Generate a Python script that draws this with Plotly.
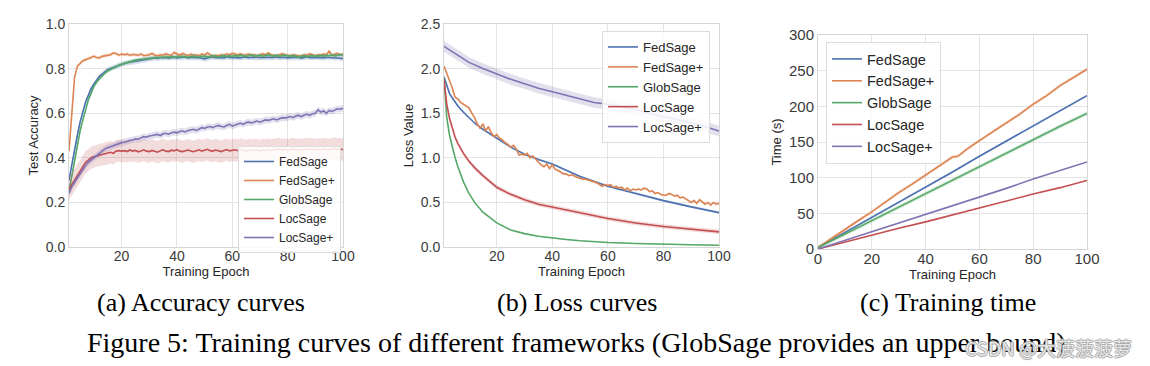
import plotly.graph_objects as go

series_names = ["FedSage", "FedSage+", "GlobSage", "LocSage", "LocSage+"]
colors = ["#4C72B0", "#DD8452", "#55A868", "#C44E52", "#8172B3"]
band_rgba = ["rgba(76,114,176,0.22)", "rgba(221,132,82,0.22)", "rgba(85,168,104,0.22)",
             "rgba(196,78,82,0.20)", "rgba(129,114,179,0.22)"]

# ---------------- (a) accuracy ----------------
acc_epochs = list(range(1, 101))
acc_fedsage = [0.30, 0.37, 0.44, 0.50, 0.56, 0.61, 0.65, 0.68, 0.71, 0.73,
               0.75, 0.765, 0.775, 0.785, 0.795, 0.80, 0.805, 0.81, 0.815, 0.82,
               0.823, 0.826, 0.828, 0.83, 0.832, 0.834, 0.836, 0.838, 0.84, 0.842,
               0.845, 0.848, 0.846, 0.85, 0.848, 0.85, 0.847, 0.849, 0.851, 0.848,
               0.85, 0.849, 0.852, 0.848, 0.85, 0.851, 0.849, 0.85, 0.846, 0.843,
               0.848, 0.85, 0.852, 0.849, 0.851, 0.85, 0.848, 0.852, 0.85, 0.849,
               0.851, 0.85, 0.848, 0.852, 0.85, 0.849, 0.851, 0.85, 0.848, 0.85,
               0.849, 0.851, 0.85, 0.848, 0.85, 0.852, 0.849, 0.85, 0.851, 0.848,
               0.85, 0.849, 0.851, 0.85, 0.847, 0.85, 0.852, 0.849, 0.85, 0.851,
               0.849, 0.85, 0.848, 0.851, 0.85, 0.849, 0.848, 0.85, 0.847, 0.845]
acc_fedsage_plus = [0.43, 0.62, 0.76, 0.81, 0.825, 0.835, 0.84, 0.845, 0.85, 0.855,
                    0.85, 0.848, 0.855, 0.858, 0.86, 0.862, 0.87, 0.868, 0.86, 0.865,
                    0.862, 0.865, 0.86, 0.863, 0.862, 0.86, 0.865, 0.858, 0.86, 0.862,
                    0.868, 0.86, 0.858, 0.862, 0.86, 0.866, 0.862, 0.86, 0.872, 0.865,
                    0.86, 0.868, 0.862, 0.858, 0.865, 0.86, 0.862, 0.858, 0.865, 0.86,
                    0.87, 0.862, 0.855, 0.86, 0.858, 0.862, 0.86, 0.865, 0.862, 0.868,
                    0.865, 0.862, 0.866, 0.86, 0.862, 0.865, 0.86, 0.862, 0.858, 0.862,
                    0.866, 0.862, 0.87, 0.862, 0.86, 0.858, 0.862, 0.866, 0.862, 0.86,
                    0.858, 0.862, 0.86, 0.856, 0.858, 0.862, 0.86, 0.866, 0.862, 0.858,
                    0.862, 0.86, 0.865, 0.862, 0.878, 0.86, 0.864, 0.868, 0.862, 0.865]
acc_globsage = [0.25, 0.32, 0.39, 0.46, 0.52, 0.57, 0.62, 0.66, 0.69, 0.72,
                0.74, 0.755, 0.77, 0.78, 0.79, 0.797, 0.804, 0.81, 0.815, 0.82,
                0.824, 0.828, 0.832, 0.835, 0.838, 0.84, 0.842, 0.844, 0.845, 0.846,
                0.848, 0.849, 0.85, 0.851, 0.85, 0.852, 0.851, 0.853, 0.852, 0.854,
                0.852, 0.855, 0.853, 0.851, 0.854, 0.856, 0.853, 0.852, 0.855, 0.854,
                0.856, 0.853, 0.858, 0.855, 0.852, 0.856, 0.858, 0.854, 0.857, 0.855,
                0.858, 0.856, 0.86, 0.857, 0.855, 0.858, 0.862, 0.856, 0.858, 0.86,
                0.856, 0.859, 0.862, 0.858, 0.856, 0.86, 0.855, 0.858, 0.861, 0.857,
                0.855, 0.858, 0.856, 0.852, 0.855, 0.857, 0.854, 0.856, 0.858, 0.855,
                0.857, 0.859, 0.856, 0.86, 0.858, 0.862, 0.857, 0.86, 0.862, 0.86]
acc_locsage = [0.26, 0.28, 0.30, 0.32, 0.34, 0.36, 0.38, 0.39, 0.40, 0.405,
               0.41, 0.412, 0.415, 0.418, 0.42, 0.425, 0.42, 0.43, 0.432, 0.43,
               0.432, 0.428, 0.435, 0.43, 0.433, 0.427, 0.431, 0.436, 0.43, 0.428,
               0.433, 0.43, 0.425, 0.432, 0.436, 0.43, 0.428, 0.434, 0.431, 0.437,
               0.43, 0.428, 0.433, 0.435, 0.43, 0.427, 0.432, 0.436, 0.43, 0.433,
               0.438, 0.432, 0.43, 0.435, 0.43, 0.428, 0.433, 0.437, 0.431, 0.434,
               0.436, 0.432, 0.438, 0.433, 0.43, 0.435, 0.432, 0.437, 0.434, 0.431,
               0.436, 0.433, 0.438, 0.432, 0.435, 0.437, 0.44, 0.434, 0.438, 0.433,
               0.436, 0.44, 0.435, 0.438, 0.434, 0.437, 0.44, 0.436, 0.439, 0.434,
               0.438, 0.436, 0.44, 0.437, 0.435, 0.439, 0.442, 0.437, 0.44, 0.436]
acc_locsage_plus = [0.24, 0.27, 0.29, 0.31, 0.33, 0.35, 0.365, 0.38, 0.39, 0.40,
                    0.41, 0.42, 0.43, 0.44, 0.445, 0.45, 0.455, 0.46, 0.462, 0.468,
                    0.47, 0.475, 0.478, 0.48, 0.485, 0.483, 0.49, 0.495, 0.492, 0.498,
                    0.50, 0.503, 0.505, 0.50, 0.508, 0.51, 0.506, 0.512, 0.515, 0.512,
                    0.518, 0.52, 0.516, 0.522, 0.525, 0.528, 0.523, 0.53, 0.535, 0.532,
                    0.538, 0.54, 0.535, 0.542, 0.545, 0.54, 0.538, 0.545, 0.55, 0.542,
                    0.548, 0.552, 0.555, 0.55, 0.558, 0.56, 0.556, 0.562, 0.565, 0.56,
                    0.566, 0.57, 0.568, 0.572, 0.575, 0.57, 0.576, 0.58, 0.578, 0.582,
                    0.585, 0.58, 0.588, 0.59, 0.585, 0.592, 0.595, 0.59, 0.598, 0.60,
                    0.615, 0.605, 0.61, 0.60, 0.612, 0.608, 0.615, 0.62, 0.618, 0.622]
acc_spread = [0.012, 0.008, 0.008, 0.05, 0.015]

# ---------------- (b) loss ----------------
loss_smooth_epochs = [1, 2, 3, 4, 5, 6, 8, 10, 12, 15, 20, 25, 30, 35, 40, 45, 50, 60, 70, 80, 90, 100]
loss_fedsage = [1.91, 1.80, 1.72, 1.67, 1.62, 1.58, 1.51, 1.45, 1.39, 1.32, 1.22, 1.12, 1.04, 0.98,
                0.93, 0.86, 0.79, 0.68, 0.60, 0.52, 0.45, 0.385]
loss_globsage = [1.90, 1.45, 1.25, 1.12, 1.00, 0.90, 0.73, 0.60, 0.50, 0.39, 0.27, 0.19, 0.15, 0.12,
                 0.10, 0.085, 0.07, 0.05, 0.04, 0.03, 0.025, 0.02]
loss_locsage = [1.88, 1.60, 1.44, 1.32, 1.23, 1.16, 1.05, 0.96, 0.89, 0.80, 0.67, 0.59, 0.53, 0.48,
                0.45, 0.415, 0.385, 0.32, 0.27, 0.23, 0.20, 0.17]
loss_locsage_plus_epochs = [1, 5, 10, 15, 20, 25, 30, 35, 40, 45, 50, 55, 60, 65, 70, 75, 80, 85, 90, 95, 100]
loss_locsage_plus = [2.25, 2.17, 2.07, 2.00, 1.94, 1.88, 1.83, 1.78, 1.74, 1.70, 1.66, 1.62, 1.60,
                     1.57, 1.54, 1.50, 1.46, 1.43, 1.39, 1.35, 1.30]
loss_fedsage_plus_epochs = list(range(1, 101))
loss_fedsage_plus = [2.03, 1.95, 1.86, 1.78, 1.68, 1.66, 1.62, 1.60, 1.58, 1.56,
                     1.50, 1.45, 1.38, 1.33, 1.38, 1.30, 1.35, 1.28, 1.24, 1.26,
                     1.22, 1.20, 1.17, 1.15, 1.12, 1.14, 1.10, 1.03, 1.04, 1.03,
                     1.05, 1.00, 1.02, 0.98, 0.95, 0.92, 0.90, 0.93, 0.88, 0.92,
                     0.87, 0.86, 0.84, 0.82, 0.82, 0.80, 0.81, 0.79, 0.78, 0.77,
                     0.76, 0.76, 0.75, 0.74, 0.73, 0.72, 0.70, 0.68, 0.70, 0.69,
                     0.70, 0.67, 0.68, 0.66, 0.67, 0.64, 0.66, 0.63, 0.65, 0.64,
                     0.65, 0.64, 0.66, 0.65, 0.62, 0.63, 0.60, 0.61, 0.59, 0.58,
                     0.58, 0.60, 0.59, 0.57, 0.58, 0.55, 0.56, 0.54, 0.52, 0.50,
                     0.52, 0.49, 0.53, 0.50, 0.48, 0.50, 0.47, 0.50, 0.48, 0.49]
loss_spread = [0.012, 0.012, 0.006, 0.025, 0.06]

# ---------------- (c) time ----------------
time_epochs = [0, 10, 20, 30, 40, 50, 60, 70, 80, 90, 100]
time_fedsage = [2, 23, 44, 66, 87, 108, 130, 151, 172, 194, 215]
time_globsage = [2, 21, 40, 59, 78, 97, 116, 134, 153, 172, 190]
time_locsage = [0, 10, 19, 29, 38, 48, 58, 67, 77, 86, 96]
time_locsage_plus = [0, 12, 25, 37, 49, 61, 73, 85, 98, 110, 122]
time_fedsage_plus_epochs = [0, 5, 10, 15, 20, 25, 30, 35, 40, 45, 50, 52, 55, 60, 65, 70, 75, 80, 85, 90, 95, 100]
time_fedsage_plus = [2, 15, 27, 40, 52, 66, 79, 91, 104, 116, 129, 130, 139, 152, 164, 177, 189,
                     203, 215, 229, 240, 252]
time_spread = [1.5, 2.5, 3.0, 0.5, 0.5]

fig = go.Figure()


def add_series(xs, ys, spread, idx, xa, ya, legend_name):
    upper = [v + spread for v in ys]
    lower = [v - spread for v in ys]
    fig.add_trace(go.Scatter(x=list(xs) + list(xs)[::-1], y=upper + lower[::-1],
                             fill="toself", fillcolor=band_rgba[idx], line=dict(width=0),
                             mode="lines", hoverinfo="skip", showlegend=False,
                             xaxis=xa, yaxis=ya))
    fig.add_trace(go.Scatter(x=xs, y=ys, mode="lines", name=series_names[idx],
                             line=dict(color=colors[idx], width=1.6),
                             xaxis=xa, yaxis=ya, legend=legend_name))


acc_data = [acc_fedsage, acc_fedsage_plus, acc_globsage, acc_locsage, acc_locsage_plus]
for i, ys in enumerate(acc_data):
    add_series(acc_epochs, ys, acc_spread[i], i, "x", "y", "legend")

loss_x = [loss_smooth_epochs, loss_fedsage_plus_epochs, loss_smooth_epochs, loss_smooth_epochs,
          loss_locsage_plus_epochs]
loss_data = [loss_fedsage, loss_fedsage_plus, loss_globsage, loss_locsage, loss_locsage_plus]
for i, ys in enumerate(loss_data):
    add_series(loss_x[i], ys, loss_spread[i], i, "x2", "y2", "legend2")

time_x = [time_epochs, time_fedsage_plus_epochs, time_epochs, time_epochs, time_epochs]
time_data = [time_fedsage, time_fedsage_plus, time_globsage, time_locsage, time_locsage_plus]
for i, ys in enumerate(time_data):
    add_series(time_x[i], ys, time_spread[i], i, "x3", "y3", "legend3")

W, H = 1150, 366
grid = "#e4e4e4"
spine = "#d6d6d6"
sans = "Liberation Sans, Arial, sans-serif"
titlefont = dict(family=sans, size=13, color="#262626")


def xax(domain, rng, tickvals, anchor, fs):
    return dict(domain=domain, range=rng, tickvals=tickvals, showgrid=True, gridcolor=grid,
                gridwidth=1, showline=True, linecolor=spine, linewidth=1, mirror=True,
                zeroline=False, ticks="", tickfont=dict(family=sans, size=fs, color="#3a3a3a"),
                anchor=anchor, automargin=False, ticklabelstandoff=-4,
                title=dict(text="Training Epoch", font=titlefont, standoff=0))


def yax(domain, rng, dtick, fmt, title, anchor, fs):
    return dict(domain=domain, range=rng, dtick=dtick, tickformat=fmt, showgrid=True,
                gridcolor=grid, gridwidth=1, showline=True, linecolor=spine, linewidth=1,
                mirror=True, zeroline=False, ticks="", tickfont=dict(family=sans, size=fs, color="#3a3a3a"),
                anchor=anchor, automargin=False, title=dict(text=title, font=titlefont, standoff=4))


ya_dom = [1 - 247 / H, 1 - 24 / H]
yc_dom = [1 - 249 / H, 1 - 35 / H]

legend_common = dict(bgcolor="rgba(255,255,255,0.85)", bordercolor="#dcdcdc", borderwidth=1,
                     xanchor="left", yanchor="top", tracegroupgap=0)

fig.update_layout(
    template="none",
    width=W, height=H, autosize=False,
    margin=dict(l=0, r=0, t=0, b=0, autoexpand=False),
    paper_bgcolor="white", plot_bgcolor="white",
    xaxis=xax([69 / W, 343 / W], [1, 100], [20, 40, 60, 80, 100], "y", 14),
    yaxis=yax(ya_dom, [0, 1.0], 0.2, ".1f", "Test Accuracy", "x", 14),
    xaxis2=xax([444 / W, 719 / W], [1, 100], [20, 40, 60, 80, 100], "y2", 14),
    yaxis2=yax(ya_dom, [0, 2.5], 0.5, ".1f", "Loss Value", "x2", 14),
    xaxis3=xax([818 / W, 1087 / W], [0, 100], [0, 20, 40, 60, 80, 100], "y3", 15),
    yaxis3=yax(yc_dom, [0, 300], 50, "d", "Time (s)", "x3", 15),
    legend=dict(x=238 / W, y=1 - 146 / H, font=dict(family=sans, size=12, color="#262626"),
                **legend_common),
    legend2=dict(x=602 / W, y=1 - 31 / H, font=dict(family=sans, size=13, color="#262626"),
                 **legend_common),
    legend3=dict(x=826 / W, y=1 - 42 / H, font=dict(family=sans, size=14.5, color="#262626"),
                 **legend_common),
    showlegend=True,
)

serif = "Liberation Serif, Times New Roman, serif"
captions = [("(a) Accuracy curves", 201), ("(b) Loss curves", 577), ("(c) Training time", 948)]
for text, cx in captions:
    fig.add_annotation(text=text, x=cx / W, y=1 - 302 / H, xref="paper", yref="paper",
                       showarrow=False, xanchor="center", yanchor="middle",
                       font=dict(family=serif, size=26, color="black"))
fig.add_annotation(text="Figure 5: Training curves of different frameworks (GlobSage provides an upper bound)",
                   x=576 / W, y=1 - 342 / H, xref="paper", yref="paper", showarrow=False,
                   xanchor="center", yanchor="middle", font=dict(family=serif, size=28, color="black"))
fig.add_annotation(text="CSDN @大菠菠菠萝", x=1134 / W, y=1 - 347 / H, xref="paper", yref="paper",
                   showarrow=False, xanchor="right", yanchor="middle",
                   font=dict(family="Noto Sans CJK SC, sans-serif", size=19, color="rgba(255,255,255,0.75)",
                             shadow="1px 0 0 #9a9a9a, -1px 0 0 #9a9a9a, 0 1px 0 #9a9a9a, 0 -1px 0 #9a9a9a"))

fig.write_html("out.html", config={"displayModeBar": False},
               post_script="document.body.style.margin='0';")
